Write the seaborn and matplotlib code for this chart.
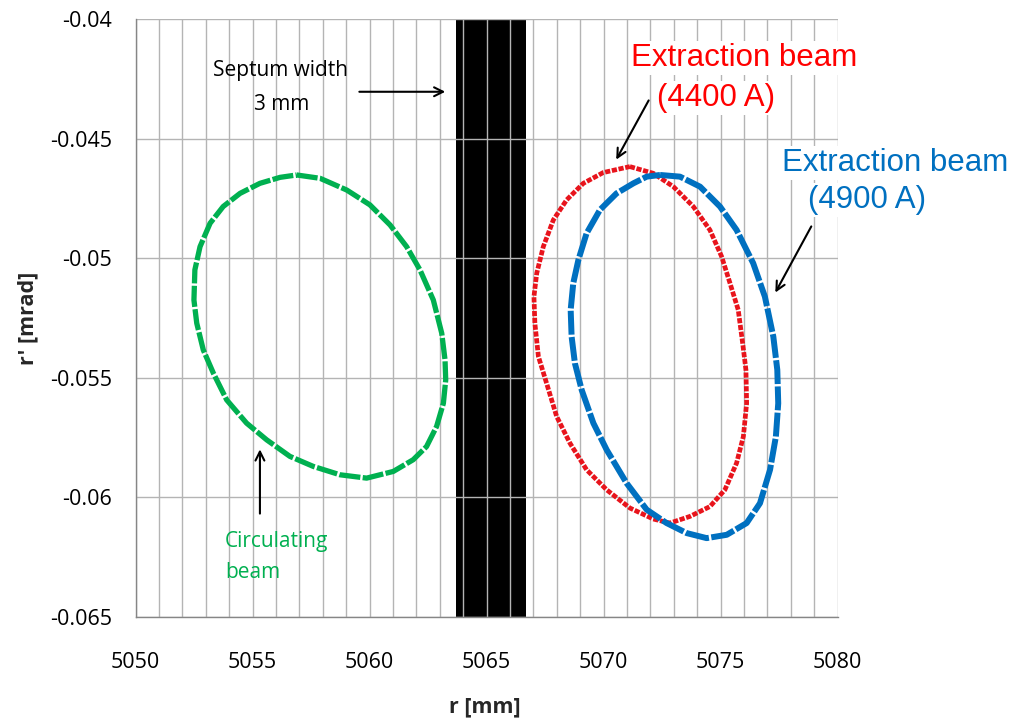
import numpy as np
import matplotlib
matplotlib.use("Agg")
import matplotlib.pyplot as plt
from matplotlib.ticker import MultipleLocator, FixedLocator
import seaborn as sns

# Phase-space contours (r [mm], r' [mrad])
circ_r = [5056.88, 5057.88, 5059.02, 5060.01, 5060.87, 5061.58, 5062.15, 5062.72,
          5063.08, 5063.22, 5063.25, 5063.15, 5062.86, 5062.43, 5061.86, 5061.01,
          5059.87, 5058.73, 5057.59, 5056.59, 5055.60, 5054.74, 5053.89, 5053.32,
          5052.89, 5052.61, 5052.49, 5052.53, 5052.75, 5053.18, 5053.74, 5054.46,
          5055.31, 5056.17]
circ_rp = [-0.04651, -0.04665, -0.04714, -0.04776, -0.04860, -0.04951, -0.05048, -0.05174,
           -0.05313, -0.05424, -0.05508, -0.05606, -0.05703, -0.05787, -0.05842, -0.05891,
           -0.05919, -0.05905, -0.05870, -0.05828, -0.05759, -0.05689, -0.05592, -0.05480,
           -0.05383, -0.05271, -0.05174, -0.05048, -0.04951, -0.04853, -0.04783, -0.04728,
           -0.04686, -0.04661]

ext4400_r = [5071.12, 5072.12, 5072.98, 5073.83, 5074.54, 5075.04, 5075.40, 5075.75,
             5075.94, 5076.08, 5076.11, 5075.97, 5075.68, 5075.18, 5074.54, 5073.69,
             5072.83, 5072.12, 5071.12, 5070.13, 5069.27, 5068.56, 5067.99, 5067.56,
             5067.21, 5067.06, 5067.02, 5067.14, 5067.42, 5067.85, 5068.42, 5069.13,
             5069.98]
ext4400_rp = [-0.04616, -0.04644, -0.04700, -0.04783, -0.04881, -0.04992, -0.05104, -0.05215,
              -0.05355, -0.05466, -0.05606, -0.05745, -0.05856, -0.05968, -0.06038, -0.06079,
              -0.06107, -0.06090, -0.06044, -0.05968, -0.05884, -0.05773, -0.05661, -0.05522,
              -0.05410, -0.05271, -0.05160, -0.05062, -0.04951, -0.04839, -0.04755, -0.04686,
              -0.04641]

ext4900_r = [5072.41, 5073.26, 5074.12, 5074.97, 5075.68, 5076.39, 5076.89, 5077.25,
             5077.42, 5077.46, 5077.36, 5077.11, 5076.68, 5076.11, 5075.26, 5074.40,
             5073.55, 5072.69, 5071.84, 5070.98, 5070.13, 5069.56, 5069.06, 5068.77,
             5068.63, 5068.59, 5068.70, 5068.92, 5069.27, 5069.84, 5070.55, 5071.27,
             5071.84]
ext4900_rp = [-0.04651, -0.04658, -0.04700, -0.04783, -0.04881, -0.05020, -0.05160, -0.05327,
              -0.05466, -0.05606, -0.05745, -0.05884, -0.06024, -0.06107, -0.06156, -0.06170,
              -0.06149, -0.06107, -0.06051, -0.05940, -0.05801, -0.05689, -0.05550, -0.05438,
              -0.05327, -0.05215, -0.05104, -0.05006, -0.04895, -0.04797, -0.04728, -0.04686,
              -0.04658]

# Septum blade extent
septum_r = [5063.7, 5066.7]

x_ticks = [5050, 5055, 5060, 5065, 5070, 5075, 5080]
y_ticks = [-0.065, -0.06, -0.055, -0.05, -0.045, -0.04]
y_tick_labels = ["-0.065", "-0.06", "-0.055", "-0.05", "-0.045", "-0.04"]

sns.set_theme(style="white")
plt.rcParams["font.family"] = ["Open Sans", "DejaVu Sans"]

fig = plt.figure(figsize=(10.14, 7.21), dpi=100)
ax = fig.add_axes([0.1338, 0.1442, 0.6923, 0.8290])

ax.set_xlim(x_ticks[0], x_ticks[-1])
ax.set_ylim(y_ticks[0], y_ticks[-1])

# grid: every mm vertically, every major tick horizontally
grid_col = "#B4B4B4"
ax.xaxis.set_major_locator(FixedLocator(x_ticks))
ax.xaxis.set_minor_locator(MultipleLocator(1))
ax.yaxis.set_major_locator(FixedLocator(y_ticks))
ax.set_yticklabels(y_tick_labels)
ax.grid(True, which="both", axis="x", color=grid_col, linewidth=1.0, zorder=1)
ax.grid(True, which="major", axis="y", color=grid_col, linewidth=1.0, zorder=1)
ax.set_axisbelow(False)
for gl in ax.get_xgridlines() + ax.get_ygridlines():
    gl.set_zorder(1)

# septum blade
ax.axvspan(septum_r[0], septum_r[1], color="black", zorder=0.5, linewidth=0)


def contour(r, rp, color, lw, dash):
    rr = np.r_[r, r[:1]]
    pp = np.r_[rp, rp[:1]]
    sns.lineplot(x=rr, y=pp, sort=False, estimator=None, ax=ax, color=color,
                 linewidth=lw, zorder=3)
    ln = ax.lines[-1]
    ln.set_linestyle((0, dash))
    ln.set_solid_capstyle("butt")
    ln.set_dash_capstyle("butt")
    ln.set_solid_joinstyle("round")


contour(circ_r, circ_rp, "#00B050", 3.8, (4.0, 0.45))
contour(ext4400_r, ext4400_rp, "#E8141C", 3.4, (1.1, 0.35))
contour(ext4900_r, ext4900_rp, "#0070C0", 4.3, (4.0, 0.4))

# spines / ticks
for side in ["top", "right"]:
    ax.spines[side].set_visible(False)
for side in ["left", "bottom"]:
    ax.spines[side].set_color("#868686")
    ax.spines[side].set_linewidth(1.0)
    ax.spines[side].set_zorder(4)
ax.tick_params(axis="both", which="major", direction="out", length=6, width=1,
               color="#868686", labelsize=15.5, labelcolor="black")
ax.tick_params(axis="x", which="major", pad=19)
ax.tick_params(axis="y", which="major", pad=11)
ax.tick_params(axis="x", which="minor", length=0)

ax.set_xlabel("r [mm]", fontsize=15.5, fontweight="bold")
ax.set_ylabel("r' [mrad]", fontsize=15.5, fontweight="bold")
ax.xaxis.set_label_coords(0.4976, -0.133)
ax.yaxis.set_label_coords(-0.138, 0.5)

# annotations
arrow = dict(arrowstyle="->", color="black", lw=1.5, mutation_scale=16)
calibri_like = ["Open Sans", "DejaVu Sans"]
arial_like = ["Liberation Sans", "DejaVu Sans"]

ax.text(5056.21, -0.04212, "Septum width", ha="center", va="center", fontsize=15,
        family=calibri_like, color="black", zorder=5)
ax.text(5056.24, -0.04358, "3 mm", ha="center", va="center", fontsize=15,
        family=calibri_like, color="black", zorder=5)
ax.annotate("", xy=(5063.35, -0.04303), xytext=(5059.44, -0.04303), arrowprops=arrow,
            zorder=5)

bbox_w = dict(facecolor="white", edgecolor="none", pad=1.5)
ax.text(5076.0, -0.04162, "Extraction beam", ha="center", va="center", fontsize=22.5,
        family=arial_like, color="#FF0000", bbox=bbox_w, zorder=5)
ax.text(5074.80, -0.04329, "(4400 A)", ha="center", va="center", fontsize=22.5,
        family=arial_like, color="#FF0000", bbox=bbox_w, zorder=5)
ax.annotate("", xy=(5070.48, -0.04597), xytext=(5071.98, -0.04329), arrowprops=arrow,
            zorder=5)

ax.text(5082.45, -0.04601, "Extraction beam", ha="center", va="center", fontsize=22.5,
        family=arial_like, color="#0070C0", bbox=bbox_w, zorder=5, clip_on=False)
ax.text(5081.24, -0.04755, "(4900 A)", ha="center", va="center", fontsize=22.5,
        family=arial_like, color="#0070C0", bbox=bbox_w, zorder=5, clip_on=False)
ax.annotate("", xy=(5077.28, -0.05153), xytext=(5078.93, -0.04856), arrowprops=arrow,
            zorder=5, annotation_clip=False)

ax.text(5053.82, -0.06184, "Circulating", ha="left", va="center", fontsize=15,
        family=calibri_like, color="#00B050", zorder=5)
ax.text(5053.82, -0.06315, "beam", ha="left", va="center", fontsize=15,
        family=calibri_like, color="#00B050", zorder=5)
ax.annotate("", xy=(5055.31, -0.05787), xytext=(5055.31, -0.06079), arrowprops=arrow,
            zorder=5)

fig.savefig("out.png", dpi=100, facecolor="white")
